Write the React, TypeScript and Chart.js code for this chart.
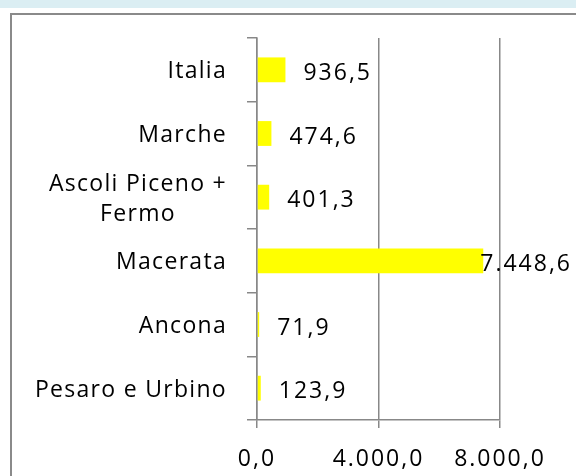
import React, { useEffect, useRef } from 'react';
import { Chart, registerables } from 'chart.js';

Chart.register(...registerables);

const categories: string[][] = [
  ['Italia'],
  ['Marche'],
  ['Ascoli Piceno +', 'Fermo'],
  ['Macerata'],
  ['Ancona'],
  ['Pesaro e Urbino'],
];
const values: number[] = [936.5, 474.6, 401.3, 7448.6, 71.9, 123.9];
const xMin = 0;
const xMax = 8000;
const xStep = 4000;

const FONT = '"Open Sans", sans-serif';
const FONT_SIZE = 23;

function fmtIt(v: number): string {
  const neg = v < 0;
  const fixed = Math.abs(v).toFixed(1);
  const [int, dec] = fixed.split('.');
  const grouped = int.replace(/\B(?=(\d{3})+(?!\d))/g, '.');
  return (neg ? '-' : '') + grouped + ',' + dec;
}

const spacingPlugin = {
  id: 'spacing',
  beforeLayout(chart: any) {
    chart.ctx.letterSpacing = '2px';
  },
  beforeDraw(chart: any) {
    chart.ctx.letterSpacing = '2px';
  },
};

const labelPlugin = {
  id: 'customLabels',
  afterDraw(chart: any) {
    const ctx = chart.ctx as CanvasRenderingContext2D & { letterSpacing: string };
    const yScale = chart.scales.y;
    const meta = chart.getDatasetMeta(0);
    ctx.save();
    ctx.font = `${FONT_SIZE}px ${FONT}`;
    ctx.fillStyle = '#000000';
    ctx.textBaseline = 'alphabetic';
    // category labels
    ctx.letterSpacing = '1.3px';
    ctx.textAlign = 'center';
    const right = yScale.right - 10 - 20;
    const lh = 30;
    categories.forEach((lines, i) => {
      const cy = yScale.getPixelForValue(i);
      const maxW = Math.max(...lines.map((l) => ctx.measureText(l).width));
      lines.forEach((l, j) => {
        const base = cy + 8.5 + (j - (lines.length - 1) / 2) * lh;
        ctx.fillText(l, right - maxW / 2, base);
      });
    });
    // value labels
    ctx.letterSpacing = '2px';
    ctx.textAlign = 'left';
    meta.data.forEach((bar: any, i: number) => {
      const txt = fmtIt(values[i]);
      const w = ctx.measureText(txt).width;
      let x = bar.x + 18;
      if (x + w > chart.width - 4) x = chart.width - 4 - w;
      ctx.fillText(txt, x, bar.y + 10);
    });
    ctx.restore();
  },
};

export default function App() {
  const ref = useRef<HTMLCanvasElement | null>(null);

  useEffect(() => {
    if (!ref.current) return;
    const chart = new Chart(ref.current, {
      type: 'bar',
      data: {
        labels: categories,
        datasets: [
          {
            data: values,
            backgroundColor: '#FFFF00',
            borderWidth: 0,
            barPercentage: 0.39,
            categoryPercentage: 1,
          },
        ],
      },
      options: {
        indexAxis: 'y',
        responsive: false,
        animation: false,
        layout: { padding: { top: 38, right: 76, left: 0, bottom: 0 } },
        plugins: {
          legend: { display: false },
          tooltip: { enabled: false },
        },
        scales: {
          x: {
            min: xMin,
            max: xMax,
            ticks: {
              stepSize: xStep,
              font: { family: FONT, size: FONT_SIZE },
              color: '#000000',
              padding: 18,
              maxRotation: 0,
              autoSkip: false,
              callback: (v: any) => fmtIt(Number(v)),
            },
            grid: { color: '#888888', lineWidth: 1.5, tickLength: 8 },
            border: { color: '#888888', width: 1.5 },
            afterFit: (s: any) => {
              s.height = 56;
            },
          },
          y: {
            ticks: { display: false },
            grid: { drawOnChartArea: false, tickLength: 10, color: '#888888', lineWidth: 1.5, offset: true },
            border: { color: '#888888', width: 1.5 },
            afterFit: (s: any) => {
              s.width = 257;
            },
          },
        },
      },
      plugins: [spacingPlugin, labelPlugin],
    });
    return () => chart.destroy();
  }, []);

  return (
    <div
      style={{
        position: 'absolute',
        left: 0,
        top: 0,
        width: 576,
        height: 476,
        overflow: 'hidden',
        background: '#ffffff',
      }}
    >
      <div style={{ position: 'absolute', left: 0, top: 0, width: 576, height: 8, background: '#DBEEF3' }} />
      <div
        style={{
          position: 'absolute',
          left: 10,
          top: 13,
          width: 600,
          height: 500,
          borderLeft: '2px solid #8a8a8a',
          borderTop: '2px solid #8a8a8a',
        }}
      />
      <canvas
        ref={ref}
        width={576}
        height={476}
        style={{ position: 'absolute', left: 0, top: 0, display: 'block' }}
      />
    </div>
  );
}
